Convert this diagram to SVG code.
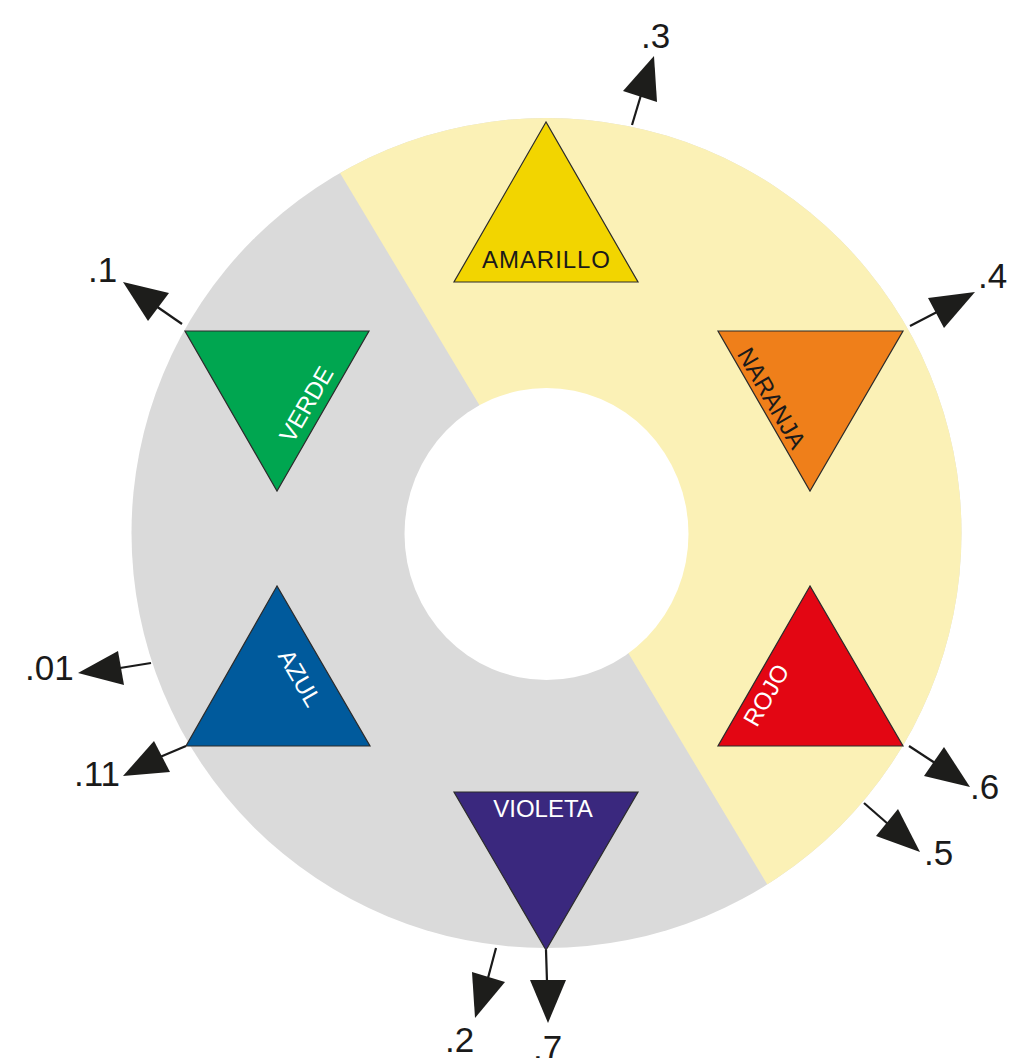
<svg xmlns="http://www.w3.org/2000/svg" width="1022" height="1058" viewBox="0 0 1022 1058">
<style>
.tri{stroke:#2b2b2b;stroke-width:1.2}
.lbl{font-family:"Liberation Sans",Arial,sans-serif;font-size:24px;text-anchor:middle}
.num{font-family:"Liberation Sans",Arial,sans-serif;font-size:35px;fill:#1a1a1a}
.ln{stroke:#1a1a1a;stroke-width:2.2;fill:none}
.hd{fill:#1d1d1b}
</style>
<defs>
<clipPath id="disc"><circle cx="546.5" cy="533" r="415"/></clipPath>
</defs>
<rect width="1022" height="1058" fill="#ffffff"/>
<g id="ring">
<circle cx="546.5" cy="533" r="415" fill="#dadada"/>
<polygon points="340,173 296,100 1000,100 1000,1000 835,1000 767,884" fill="#fbf1b6" clip-path="url(#disc)"/>
<ellipse cx="546.5" cy="534" rx="142" ry="146" fill="#ffffff"/>
</g>
<g id="amarillo">
<polygon class="tri" points="546,122 454,282 638,282" fill="#f2d500"/>
<text class="lbl" x="546" y="268" fill="#1a1a1a" textLength="128">AMARILLO</text>
</g>
<g id="naranja">
<polygon class="tri" points="718,331 903,331 810,491" fill="#ef7f1a"/>
<text class="lbl" x="0" y="0" dy="0.36em" fill="#1a1a1a" transform="translate(772,398) rotate(60)">NARANJA</text>
</g>
<g id="rojo">
<polygon class="tri" points="810,586 718,746 903,746" fill="#e30613"/>
<text class="lbl" x="0" y="0" dy="0.36em" fill="#ffffff" transform="translate(766,695) rotate(-60)">ROJO</text>
</g>
<g id="verde">
<polygon class="tri" points="185,331 369,331 277,491" fill="#00a650"/>
<text class="lbl" x="0" y="0" dy="0.36em" fill="#ffffff" transform="translate(306,404) rotate(-60)">VERDE</text>
</g>
<g id="azul">
<polygon class="tri" points="277,586 186,746 370,746" fill="#005a9c"/>
<text class="lbl" x="0" y="0" dy="0.36em" fill="#ffffff" transform="translate(300,678) rotate(60)">AZUL</text>
</g>
<g id="violeta">
<polygon class="tri" points="454,792 638,792 546,950" fill="#3a287e"/>
<text class="lbl" x="543" y="817" fill="#ffffff">VIOLETA</text>
</g>
<g id="connectors">
<line class="ln" x1="632" y1="125" x2="641" y2="95"/>
<polygon class="hd" points="654,56 623,91 657,102"/>
<line class="ln" x1="182" y1="324" x2="156" y2="306"/>
<polygon class="hd" points="123,282 169,293 148,321"/>
<line class="ln" x1="910" y1="326" x2="937" y2="312"/>
<polygon class="hd" points="975,292 928,298 944,328"/>
<line class="ln" x1="151" y1="663" x2="120" y2="668"/>
<polygon class="hd" points="78,673 118,651 124,685"/>
<line class="ln" x1="186" y1="746" x2="160" y2="757"/>
<polygon class="hd" points="123,776 154,741 170,772"/>
<line class="ln" x1="909" y1="746" x2="935" y2="763"/>
<polygon class="hd" points="970,787 944,747 924,776"/>
<line class="ln" x1="864" y1="803" x2="888" y2="824"/>
<polygon class="hd" points="920,852 898,809 876,836"/>
<line class="ln" x1="496" y1="948" x2="488" y2="978"/>
<polygon class="hd" points="475,1018 472,972 505,982"/>
<line class="ln" x1="546" y1="950" x2="547" y2="982"/>
<polygon class="hd" points="548,1023 530,980 566,980"/>
</g>
<g id="labels">
<text class="num" x="641" y="48">.3</text>
<text class="num" x="88" y="282">.1</text>
<text class="num" x="978" y="288">.4</text>
<text class="num" x="25" y="680">.01</text>
<text class="num" x="74" y="786">.11</text>
<text class="num" x="970" y="799">.6</text>
<text class="num" x="924" y="865">.5</text>
<text class="num" x="445" y="1052">.2</text>
<text class="num" x="533" y="1060">.7</text>
</g>
</svg>
